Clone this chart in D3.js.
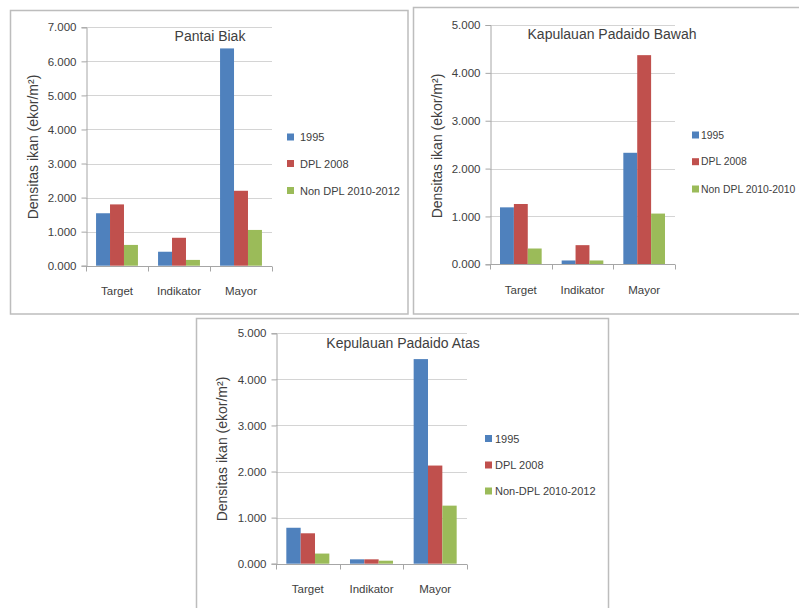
<!DOCTYPE html>
<html>
<head>
<meta charset="utf-8">
<script src="https://cdn.jsdelivr.net/npm/d3@7"></script>
<style>
  html, body { margin: 0; padding: 0; background: #fff; }
  svg { display: block; font-family: "Liberation Sans", Arial, sans-serif; }
</style>
</head>
<body>
<svg id="chart" width="799" height="608"></svg>
<script>
// Fish density per category (ekor/m²) for three survey areas
const categories = ["Target", "Indikator", "Mayor"];

const seriesPantaiBiak = ["1995", "DPL 2008", "Non DPL 2010-2012"];
const pantaiBiak1995 = [1.54, 0.41, 6.38];
const pantaiBiakDPL2008 = [1.80, 0.82, 2.20];
const pantaiBiakNonDPL = [0.61, 0.17, 1.05];
const ticksPantaiBiak = [0, 1, 2, 3, 4, 5, 6, 7];

const seriesPadaidoBawah = ["1995", "DPL 2008", "Non DPL 2010-2010"];
const padaidoBawah1995 = [1.19, 0.08, 2.33];
const padaidoBawahDPL2008 = [1.26, 0.40, 4.37];
const padaidoBawahNonDPL = [0.33, 0.08, 1.06];
const ticksPadaidoBawah = [0, 1, 2, 3, 4, 5];

const seriesPadaidoAtas = ["1995", "DPL 2008", "Non-DPL 2010-2012"];
const padaidoAtas1995 = [0.78, 0.095, 4.44];
const padaidoAtasDPL2008 = [0.66, 0.095, 2.13];
const padaidoAtasNonDPL = [0.22, 0.065, 1.26];
const ticksPadaidoAtas = [0, 1, 2, 3, 4, 5];

const yLabel = "Densitas ikan (ekor/m²)";
const colors = ["#4F81BD", "#C0504D", "#9BBB59"];

const svg = d3.select("#chart");
const fmt = d3.format(".3f");

function drawPanel(p) {
  const g = svg.append("g");

  // panel frame
  g.append("rect")
    .attr("x", p.frame[0]).attr("y", p.frame[1])
    .attr("width", p.frame[2]).attr("height", p.frame[3])
    .attr("fill", "#fff").attr("stroke", "#bdbdbd").attr("stroke-width", 1.5);

  const y = d3.scaleLinear().domain([0, d3.max(p.ticks)]).range([p.y0, p.yTop]);
  const x0 = d3.scaleBand().domain(categories).range([p.left, p.right]).padding(0);
  const x1 = d3.scaleBand().domain(p.series).range([0, x0.bandwidth()])
    .paddingInner(0).paddingOuter(0.72);

  // gridlines
  g.append("g").selectAll("line").data(p.ticks.filter(t => t > 0)).join("line")
    .attr("x1", p.left).attr("x2", p.right)
    .attr("y1", d => Math.round(y(d)) + 0.5).attr("y2", d => Math.round(y(d)) + 0.5)
    .attr("stroke", "#d4d4d4").attr("stroke-width", 1);

  // y axis
  const yAxis = g.append("g")
    .attr("transform", `translate(${p.left + 0.5},0)`)
    .call(d3.axisLeft(y).tickValues(p.ticks).tickFormat(fmt).tickSize(5).tickPadding(5));
  yAxis.select(".domain").attr("stroke", "#a6a6a6");
  yAxis.selectAll(".tick line").attr("stroke", "#a6a6a6");
  yAxis.selectAll(".tick text").attr("fill", "#404040")
    .style("font-size", "11.5px").style("font-family", "Liberation Sans, Arial, sans-serif");

  // bars
  const groups = g.append("g").selectAll("g").data(p.values).join("g")
    .attr("fill", (d, i) => colors[i]);
  groups.selectAll("rect")
    .data((vals, si) => vals.map((v, ci) => ({ v, ci, si })))
    .join("rect")
    .attr("x", d => x0(categories[d.ci]) + x1(p.series[d.si]))
    .attr("width", x1.bandwidth())
    .attr("y", d => y(d.v))
    .attr("height", d => y(0) - y(d.v));

  // x axis
  const xAxis = g.append("g")
    .attr("transform", `translate(0,${Math.round(p.y0) + 0.5})`);
  xAxis.append("line").attr("x1", p.left).attr("x2", p.right)
    .attr("stroke", "#a6a6a6");
  const bounds = [p.left, ...categories.map(c => x0(c) + x0.bandwidth())];
  xAxis.selectAll("line.tk").data(bounds).join("line").attr("class", "tk")
    .attr("x1", d => Math.round(d) + 0.5).attr("x2", d => Math.round(d) + 0.5)
    .attr("y1", 0).attr("y2", 5).attr("stroke", "#a6a6a6");
  xAxis.selectAll("text").data(categories).join("text")
    .attr("x", d => x0(d) + x0.bandwidth() / 2)
    .attr("y", p.xLabelDy)
    .attr("text-anchor", "middle")
    .attr("fill", "#404040").style("font-size", "11.5px")
    .text(d => d);

  // title
  g.append("text").attr("x", p.titleX).attr("y", p.titleY)
    .attr("text-anchor", "middle").attr("fill", "#404040")
    .style("font-size", "14px").text(p.title);

  // y axis label
  g.append("text")
    .attr("transform", `translate(${p.yLabelX},${p.yLabelY}) rotate(-90)`)
    .attr("text-anchor", "middle").attr("dominant-baseline", "central")
    .attr("fill", "#404040").style("font-size", "14px")
    .text(yLabel);

  // legend
  const leg = g.append("g").selectAll("g").data(p.series).join("g")
    .attr("transform", (d, i) => `translate(${p.legendX},${p.legendY[i]})`);
  leg.append("rect").attr("x", 0).attr("y", -3.5).attr("width", 7).attr("height", 7)
    .attr("fill", (d, i) => colors[i]);
  leg.append("text").attr("x", p.legendTextDx).attr("y", 0)
    .attr("dominant-baseline", "central").attr("fill", "#404040")
    .style("font-size", p.legendFont).text(d => d);
}

drawPanel({
  frame: [10.5, 10.5, 397.5, 303.5],
  left: 86, right: 272, y0: 265.7, yTop: 27.3,
  ticks: ticksPantaiBiak,
  series: seriesPantaiBiak,
  values: [pantaiBiak1995, pantaiBiakDPL2008, pantaiBiakNonDPL],
  title: "Pantai Biak", titleX: 210, titleY: 41,
  yLabelX: 33, yLabelY: 147,
  xLabelDy: 28,
  legendX: 287, legendY: [137, 163.5, 190.5], legendTextDx: 13, legendFont: "11px"
});

drawPanel({
  frame: [413.5, 7.5, 420, 306.5],
  left: 490, right: 675, y0: 264.3, yTop: 25,
  ticks: ticksPadaidoBawah,
  series: seriesPadaidoBawah,
  values: [padaidoBawah1995, padaidoBawahDPL2008, padaidoBawahNonDPL],
  title: "Kapulauan Padaido Bawah", titleX: 612, titleY: 38.5,
  yLabelX: 437, yLabelY: 146,
  xLabelDy: 29,
  legendX: 692, legendY: [135, 161.7, 189], legendTextDx: 9, legendFont: "10.4px"
});

drawPanel({
  frame: [196.5, 318.5, 412, 300],
  left: 276, right: 467, y0: 563.7, yTop: 333.3,
  ticks: ticksPadaidoAtas,
  series: seriesPadaidoAtas,
  values: [padaidoAtas1995, padaidoAtasDPL2008, padaidoAtasNonDPL],
  title: "Kepulauan Padaido Atas", titleX: 403, titleY: 347.5,
  yLabelX: 222, yLabelY: 449,
  xLabelDy: 28,
  legendX: 485, legendY: [438.5, 465, 491], legendTextDx: 10, legendFont: "11px"
});
</script>
</body>
</html>
